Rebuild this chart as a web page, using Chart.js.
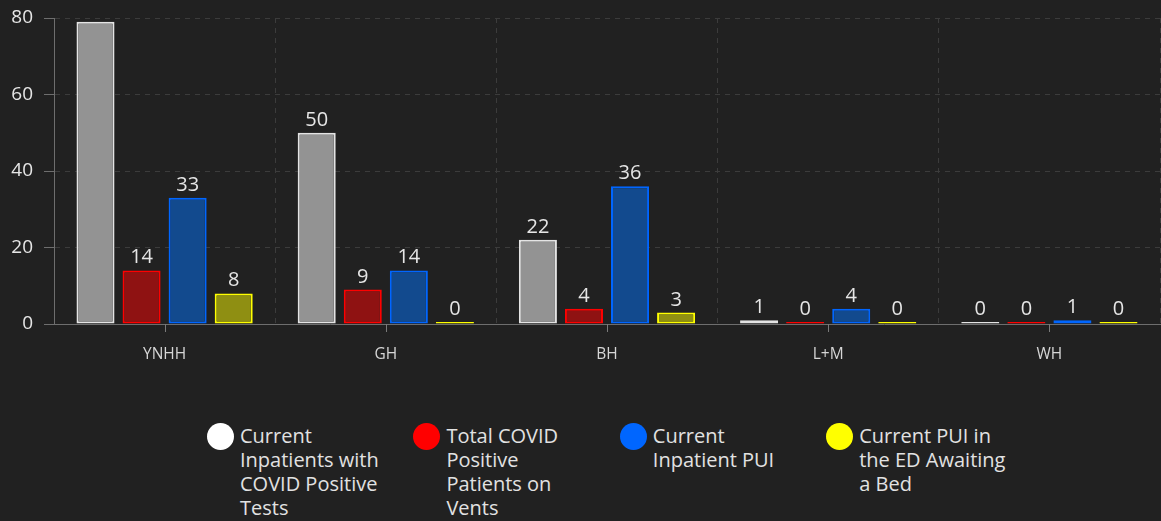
<!DOCTYPE html>
<html>
<head>
<meta charset="UTF-8">
<title>COVID inpatients by hospital</title>
<script src="https://cdn.jsdelivr.net/npm/chart.js@4/dist/chart.umd.min.js"></script>
<style>
  html, body { margin: 0; padding: 0; background: #212121; }
  #wrap { position: relative; width: 1161px; height: 521px; overflow: hidden; }
  #legend { position: absolute; left: 0; top: 423px; width: 1161px; height: 98px; }
  .item { position: absolute; top: 0; }
  .dot { position: absolute; left: 0; top: 0; width: 27px; height: 27px; border-radius: 50%; }
  .txt { position: absolute; left: 33px; top: 1px; white-space: nowrap;
         font-family: "Open Sans", sans-serif; font-size: 20px; line-height: 24px; color: #e2e2e2; }
</style>
</head>
<body>
<div id="wrap">
  <canvas id="myBarChart" width="1161" height="400"></canvas>
  <div id="legend"></div>
</div>

<script>
// hospitals along the x axis
var hospitals = ['YNHH', 'GH', 'BH', 'L+M', 'WH'];

// series values, one per hospital
var positiveTests = [79, 50, 22, 1, 0];
var onVents       = [14, 9, 4, 0, 0];
var inpatientPUI  = [33, 14, 36, 4, 1];
var edAwaitingBed = [8, 0, 3, 0, 0];

// legend text, split the way the original wraps it
var seriesNames = [
  ['Current', 'Inpatients with', 'COVID Positive', 'Tests'],
  ['Total COVID', 'Positive', 'Patients on', 'Vents'],
  ['Current', 'Inpatient PUI'],
  ['Current PUI in', 'the ED Awaiting', 'a Bed']
];

var yTicks = [0, 20, 40, 60, 80];

var fills   = ['#939393', '#8f1212', '#124a8e', '#8f8f12'];
var borders = ['#e4e4e4', '#ff0000', '#0066ff', '#ffff00'];
var dots    = ['#ffffff', '#ff0000', '#0066ff', '#ffff00'];

var seriesValues = [positiveTests, onVents, inpatientPUI, edAwaitingBed];

// value labels above each bar (clipped to the plot, like the original)
var valueLabels = {
  id: 'valueLabels',
  afterDatasetsDraw: function (chart) {
    var ctx = chart.ctx, a = chart.chartArea;
    ctx.save();
    ctx.beginPath();
    ctx.rect(a.left, a.top, a.right - a.left, a.bottom - a.top);
    ctx.clip();
    ctx.font = '20px "Open Sans", sans-serif';
    ctx.fillStyle = '#e6e6e6';
    ctx.textAlign = 'center';
    ctx.textBaseline = 'alphabetic';
    chart.data.datasets.forEach(function (ds, i) {
      chart.getDatasetMeta(i).data.forEach(function (bar, j) {
        ctx.fillText(String(ds.data[j]), bar.x, bar.y - 7);
      });
    });
    ctx.restore();
  }
};

// small tick marks under the axis at each category centre
var centreTicks = {
  id: 'centreTicks',
  afterDraw: function (chart) {
    var x = chart.scales.x, ctx = chart.ctx;
    ctx.save();
    ctx.strokeStyle = '#7a7a7a';
    ctx.lineWidth = 1;
    hospitals.forEach(function (h, i) {
      var px = Math.round(x.getPixelForValue(i)) + 0.5;
      ctx.beginPath();
      ctx.moveTo(px, x.top);
      ctx.lineTo(px, x.top + 8);
      ctx.stroke();
    });
    ctx.restore();
  }
};

var ctx = document.getElementById('myBarChart').getContext('2d');
var myBarChart = new Chart(ctx, {
  type: 'bar',
  data: {
    labels: hospitals,
    datasets: seriesValues.map(function (vals, i) {
      return {
        label: seriesNames[i].join(' '),
        data: vals,
        backgroundColor: fills[i],
        borderColor: borders[i],
        borderWidth: 2,
        borderSkipped: false,
        minBarLength: 2,
        categoryPercentage: 0.833,
        barPercentage: 0.826
      };
    })
  },
  options: {
    responsive: false,
    animation: false,
    layout: { padding: { top: 18, right: 1, left: 0, bottom: 0 } },
    plugins: {
      legend: { display: false },
      tooltip: { enabled: false }
    },
    scales: {
      x: {
        grid: { offset: true, color: '#3c3c3c', drawTicks: false },
        border: { display: true, color: '#6e6e6e', width: 1, dash: [5, 5] },
        ticks: {
          color: '#d6d6d6',
          padding: 21,
          font: { family: 'Open Sans', size: 15.5 }
        },
        afterFit: function (scale) { scale.height = 76; }
      },
      y: {
        min: 0,
        max: 80,
        afterBuildTicks: function (scale) {
          scale.ticks = yTicks.map(function (v) { return { value: v }; });
        },
        grid: {
          color: '#3c3c3c',
          tickColor: '#6e6e6e',
          tickLength: 10,
          tickBorderDash: []
        },
        border: { display: true, color: '#6e6e6e', width: 1, dash: [5, 5] },
        ticks: {
          color: '#e6e6e6',
          padding: 11,
          font: { family: 'Open Sans', size: 19 }
        },
        afterFit: function (scale) {
          scale.width = 54;
          scale.paddingTop = 0;
          scale.paddingBottom = 0;
        }
      }
    }
  },
  plugins: [valueLabels, centreTicks]
});

// legend in fixed-width columns like the original
var legend = document.getElementById('legend');
seriesNames.forEach(function (lines, i) {
  var item = document.createElement('div');
  item.className = 'item';
  item.style.left = (207 + i * 206.4) + 'px';
  var dot = document.createElement('div');
  dot.className = 'dot';
  dot.style.background = dots[i];
  var txt = document.createElement('div');
  txt.className = 'txt';
  txt.innerHTML = lines.join('<br>');
  item.appendChild(dot);
  item.appendChild(txt);
  legend.appendChild(item);
});
</script>
</body>
</html>
